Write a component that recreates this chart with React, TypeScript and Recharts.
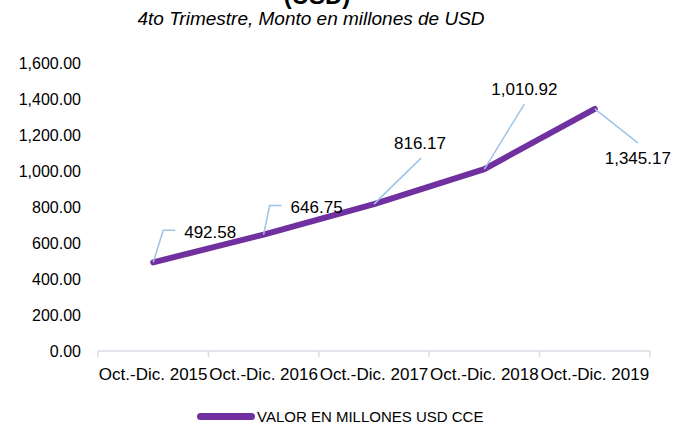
import React from "react";
import { LineChart, Line, XAxis, YAxis } from "recharts";

const CATEGORIES = ["Oct.-Dic. 2015", "Oct.-Dic. 2016", "Oct.-Dic. 2017", "Oct.-Dic. 2018", "Oct.-Dic. 2019"];
const VALUES = [492.58, 646.75, 816.17, 1010.92, 1345.17];
const Y_TICKS = [0, 200, 400, 600, 800, 1000, 1200, 1400, 1600];

const data = CATEGORIES.map((name, i) => ({ name, value: VALUES[i] }));

const PURPLE = "#7030a0";
const LEADER = "#9dc3e6";
const AXIS = "#d9dde6";
const FONT = "'Liberation Sans', Arial, sans-serif";

const W = 684;
const H = 429;
const M = { top: 63, right: 34, left: 8, bottom: 48 };
const Y_W = 90;
const BAND = (W - M.left - Y_W - M.right) / CATEGORIES.length;

const fmt = (v: number) =>
  v.toLocaleString("en-US", { minimumFractionDigits: 2, maximumFractionDigits: 2 });

// leader line bends and text placement per point, relative to the point
const LABEL_POS = [
  { pts: [[10, -32], [22, -32]], tx: 31, ty: -30, anchor: "start" },
  { pts: [[6, -29], [18, -29]], tx: 27, ty: -27, anchor: "start" },
  { pts: [[47, -46]], tx: 46, ty: -61, anchor: "middle" },
  { pts: [[40, -65]], tx: 40, ty: -80, anchor: "middle" },
  { pts: [[43, 34]], tx: 43, ty: 50, anchor: "middle" },
];

function DataLabel(props: any) {
  const { x, y, index, value } = props;
  const p = LABEL_POS[index];
  if (!p) return null;
  const d = `M${x},${y} ` + p.pts.map(([dx, dy]) => `L${x + dx},${y + dy}`).join(" ");
  return (
    <g>
      <path d={d} stroke={LEADER} strokeWidth={1.5} fill="none" />
      <text x={x + p.tx} y={y + p.ty} textAnchor={p.anchor} dominantBaseline="central"
        fontSize={17} fontFamily={FONT} fill="#000">
        {fmt(value)}
      </text>
    </g>
  );
}

function XTick(props: any) {
  const { x, y, payload, index } = props;
  const axisY = y - 8;
  return (
    <g>
      <line x1={x - BAND / 2} x2={x - BAND / 2} y1={axisY} y2={axisY + 6} stroke={AXIS} strokeWidth={1.5} />
      {index === CATEGORIES.length - 1 && (
        <line x1={x + BAND / 2} x2={x + BAND / 2} y1={axisY} y2={axisY + 6} stroke={AXIS} strokeWidth={1.5} />
      )}
      <text x={x} y={axisY + 23} textAnchor="middle" dominantBaseline="central"
        fontSize={17} fontFamily={FONT} fill="#000">
        {payload.value}
      </text>
    </g>
  );
}

export default function App() {
  return (
    <div style={{ position: "relative", width: W, height: H, background: "#fff", overflow: "hidden", fontFamily: FONT }}>
      <style>{`body{margin:0}`}</style>
      <div style={{ position: "absolute", left: 0, width: 634, top: -18, textAlign: "center", fontWeight: "bold", fontSize: 24 }}>
        (USD)
      </div>
      <div style={{ position: "absolute", left: 0, width: 622, top: 8, textAlign: "center", fontStyle: "italic", fontSize: 19 }}>
        4to Trimestre, Monto en millones de USD
      </div>
      <LineChart width={W} height={H} data={data} margin={M}>
        <XAxis dataKey="name" scale="band" axisLine={{ stroke: AXIS, strokeWidth: 1.5 }} tickLine={false}
          tick={<XTick />} interval={0} height={30} />
        <YAxis domain={[0, 1600]} ticks={Y_TICKS} width={Y_W} axisLine={false} tickLine={false}
          tickMargin={11} tickFormatter={fmt} tick={{ fill: "#000", fontSize: 16, fontFamily: FONT }} />
        <Line dataKey="value" stroke={PURPLE} strokeWidth={6} strokeLinecap="round" strokeLinejoin="round"
          dot={false} activeDot={false} isAnimationActive={false} label={<DataLabel />} />
      </LineChart>
      <div style={{ position: "absolute", left: 197, top: 408, display: "flex", alignItems: "center", fontSize: 15 }}>
        <span style={{ display: "inline-block", width: 58, height: 7, borderRadius: 4, background: PURPLE, marginRight: 2 }} />
        VALOR EN MILLONES USD CCE
      </div>
    </div>
  );
}
